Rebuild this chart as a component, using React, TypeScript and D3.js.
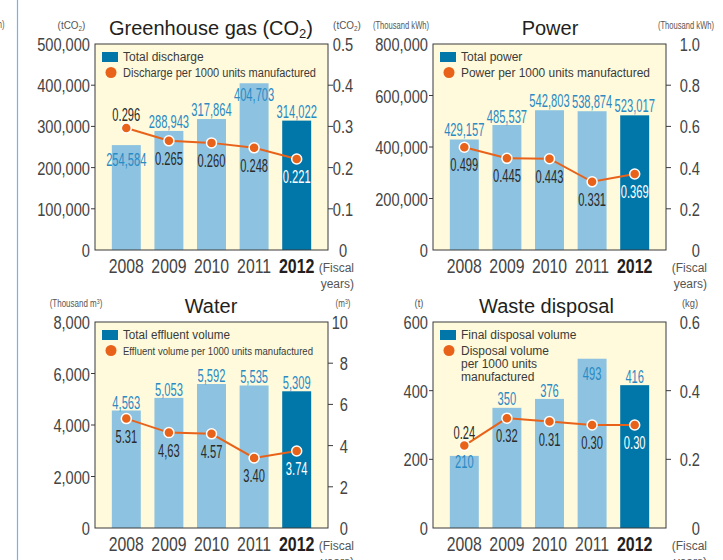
import * as d3 from "d3";

const years = ["2008", "2009", "2010", "2011", "2012"];

const co2Total = [254584, 288943, 317864, 404703, 314022];
const co2PerUnit = [0.296, 0.265, 0.26, 0.248, 0.221];
const co2PerUnitLabels = ["0.296", "0.265", "0.260", "0.248", "0.221"];
const co2LeftTicks = [0, 100000, 200000, 300000, 400000, 500000];
const co2RightTicks = [0, 0.1, 0.2, 0.3, 0.4, 0.5];

const powerTotal = [429157, 485537, 542803, 538874, 523017];
const powerPerUnit = [0.499, 0.445, 0.443, 0.331, 0.369];
const powerPerUnitLabels = ["0.499", "0.445", "0.443", "0.331", "0.369"];
const powerLeftTicks = [0, 200000, 400000, 600000, 800000];
const powerRightTicks = [0, 0.2, 0.4, 0.6, 0.8, 1.0];

const waterTotal = [4563, 5053, 5592, 5535, 5309];
const waterPerUnit = [5.31, 4.63, 4.57, 3.4, 3.74];
const waterPerUnitLabels = ["5.31", "4,63", "4.57", "3.40", "3.74"];
const waterLeftTicks = [0, 2000, 4000, 6000, 8000];
const waterRightTicks = [0, 2, 4, 6, 8, 10];

const wasteTotal = [210, 350, 376, 493, 416];
const wastePerUnit = [0.24, 0.32, 0.31, 0.3, 0.3];
const wastePerUnitLabels = ["0.24", "0.32", "0.31", "0.30", "0.30"];
const wasteLeftTicks = [0, 200, 400, 600];
const wasteRightTicks = [0, 0.2, 0.4, 0.6];

const W = 723;
const H = 560;
const FW = 233;
const FH = 206;

const SANS = "'Liberation Sans', Arial, sans-serif";
const BG = "#fffadc";
const BAR_LIGHT = "#8dc3e0";
const BAR_DARK = "#0076a9";
const BAR_TEXT = "#2a8ac4";
const ORANGE = "#e8621a";
const DARK = "#333";

type Legend = { text: string[]; len?: number; size?: number };

type PanelCfg = {
  fx: number;
  fy: number;
  title: React.ReactNode;
  titleX: number;
  unitLeft: React.ReactNode;
  unitLeftX: number;
  unitRight: React.ReactNode;
  unitRightX: number;
  unitSize: number;
  unitSx: number;
  totals: number[];
  perUnit: number[];
  perUnitLabels: string[];
  leftTicks: number[];
  rightTicks: number[];
  rightFmt: (v: number) => string;
  rightAnchor: "middle" | "end";
  rightX: number;
  fiscalX: number;
  barDy: number[];
  lineAbove: boolean[];
  legendBar: Legend;
  legendLine: Legend;
};

function CText({
  x,
  y,
  size,
  sx = 1,
  anchor = "start",
  fill = DARK,
  weight = 400,
  children,
}: {
  x: number;
  y: number;
  size: number;
  sx?: number;
  anchor?: "start" | "middle" | "end";
  fill?: string;
  weight?: number;
  children: React.ReactNode;
}) {
  return (
    <text
      transform={`translate(${x},${y}) scale(${sx},1)`}
      fontFamily={SANS}
      fontSize={size}
      fontWeight={weight}
      textAnchor={anchor}
      fill={fill}
    >
      {children}
    </text>
  );
}

const leftFmt = (v: number) => (v === 0 ? "0" : d3.format(",")(v));

function Panel({ c }: { c: PanelCfg }) {
  const { fx, fy } = c;
  const x = d3
    .scaleBand<string>()
    .domain(years)
    .range([fx, fx + FW])
    .paddingInner(0.32)
    .paddingOuter(0.395);
  const bw = x.bandwidth();
  const yL = d3
    .scaleLinear()
    .domain([0, c.leftTicks[c.leftTicks.length - 1]])
    .range([fy + FH, fy]);
  const yR = d3
    .scaleLinear()
    .domain([0, c.rightTicks[c.rightTicks.length - 1]])
    .range([fy + FH, fy]);
  const cx = (i: number) => (x(years[i]) ?? 0) + bw / 2;
  const line = d3
    .line<number>()
    .x((_, i) => cx(i))
    .y((v) => yR(v));

  const last = years.length - 1;

  return (
    <g>
      <CText x={c.titleX} y={fy - 9} size={20} anchor="middle" fill="#231f20">
        {c.title}
      </CText>
      <CText x={c.unitLeftX} y={fy - 15} size={c.unitSize} sx={c.unitSx} anchor="middle" fill="#555">
        {c.unitLeft}
      </CText>
      <CText x={c.unitRightX} y={fy - 15} size={c.unitSize} sx={c.unitSx} anchor="middle" fill="#555">
        {c.unitRight}
      </CText>

      <rect x={fx} y={fy} width={FW} height={FH} fill={BG} />

      {c.totals.map((v, i) => (
        <rect
          key={years[i]}
          x={x(years[i])}
          y={yL(v)}
          width={bw}
          height={yL(0) - yL(v)}
          fill={i === last ? BAR_DARK : BAR_LIGHT}
        />
      ))}

      <rect x={fx} y={fy} width={FW} height={FH} fill="none" stroke="#3a3a3a" strokeWidth={1} />

      {/* legend */}
      <rect x={fx + 7} y={fy + 8} width={16} height={10} fill={BAR_DARK} />
      <text
        x={fx + 28}
        y={fy + 17}
        fontFamily={SANS}
        fontSize={c.legendBar.size ?? 12}
        fill="#3a3a3a"
        textLength={c.legendBar.len}
        lengthAdjust="spacingAndGlyphs"
      >
        {c.legendBar.text[0]}
      </text>
      <circle cx={fx + 16} cy={fy + 28.5} r={5.5} fill={ORANGE} />
      {c.legendLine.text.map((t, k) => (
        <text
          key={k}
          x={fx + 28}
          y={fy + 32.5 + k * 13}
          fontFamily={SANS}
          fontSize={c.legendLine.size ?? 12}
          fill="#3a3a3a"
          textLength={c.legendLine.len}
          lengthAdjust="spacingAndGlyphs"
        >
          {t}
        </text>
      ))}

      {/* left axis */}
      {c.leftTicks.map((t, i) => (
        <g key={"l" + t}>
          {i > 0 && i < c.leftTicks.length - 1 && (
            <line x1={fx - 4} x2={fx} y1={yL(t)} y2={yL(t)} stroke="#3a3a3a" />
          )}
          <CText x={fx - 5} y={yL(t) + 7} size={19} sx={0.77} anchor="end" fill="#444">
            {leftFmt(t)}
          </CText>
        </g>
      ))}

      {/* right axis */}
      {c.rightTicks.map((t, i) => (
        <g key={"r" + t}>
          {i > 0 && i < c.rightTicks.length - 1 && (
            <line x1={fx + FW} x2={fx + FW + 5} y1={yR(t)} y2={yR(t)} stroke="#3a3a3a" />
          )}
          <CText x={c.rightX} y={yR(t) + 7} size={19} sx={0.77} anchor={c.rightAnchor} fill="#444">
            {c.rightFmt(t)}
          </CText>
        </g>
      ))}

      {/* x axis labels */}
      {years.map((yv, i) => (
        <CText
          key={yv}
          x={cx(i)}
          y={fy + FH + 23}
          size={20}
          sx={i === last ? 0.8 : 0.79}
          anchor="middle"
          fill={i === last ? "#231f20" : "#444"}
          weight={i === last ? 700 : 400}
        >
          {yv}
        </CText>
      ))}
      <text x={c.fiscalX} y={fy + FH + 22} fontFamily={SANS} fontSize={12} fill="#555" textAnchor="end">
        (Fiscal
      </text>
      <text x={c.fiscalX} y={fy + FH + 38} fontFamily={SANS} fontSize={12} fill="#555" textAnchor="end">
        years)
      </text>

      {/* bar values */}
      {c.totals.map((v, i) => (
        <CText key={"bv" + i} x={cx(i)} y={yL(v) + c.barDy[i]} size={18} sx={0.62} anchor="middle" fill={BAR_TEXT}>
          {d3.format(",")(v)}
        </CText>
      ))}

      {/* per unit line */}
      <path d={line(c.perUnit) ?? ""} fill="none" stroke={ORANGE} strokeWidth={2} />
      {c.perUnit.map((v, i) => (
        <circle key={"d" + i} cx={cx(i)} cy={yR(v)} r={5} fill={ORANGE} stroke="#fff" strokeWidth={1.5} />
      ))}
      {c.perUnit.map((v, i) => (
        <CText
          key={"lv" + i}
          x={cx(i)}
          y={yR(v) + (c.lineAbove[i] ? -7 : 24)}
          size={18}
          sx={0.62}
          anchor="middle"
          fill={i === last ? "#fff" : "#2b2b2b"}
        >
          {c.perUnitLabels[i]}
        </CText>
      ))}
    </g>
  );
}

const sub = (s: string) => (
  <tspan fontSize="0.65em" dy="0.25em">
    {s}
  </tspan>
);
const sup = (s: string) => (
  <tspan fontSize="0.65em" dy="-0.4em">
    {s}
  </tspan>
);

const panels: PanelCfg[] = [
  {
    fx: 95,
    fy: 44,
    title: (
      <>
        Greenhouse gas (CO{sub("2")}
        <tspan dy="-0.16em">)</tspan>
      </>
    ),
    titleX: 211,
    unitLeft: (
      <>
        (tCO{sub("2")}
        <tspan dy="-0.16em">)</tspan>
      </>
    ),
    unitLeftX: 71.5,
    unitRight: (
      <>
        (tCO{sub("2")}
        <tspan dy="-0.16em">)</tspan>
      </>
    ),
    unitRightX: 347,
    unitSize: 11,
    unitSx: 0.9,
    totals: co2Total,
    perUnit: co2PerUnit,
    perUnitLabels: co2PerUnitLabels,
    leftTicks: co2LeftTicks,
    rightTicks: co2RightTicks,
    rightFmt: (v) => (v === 0 ? "0" : d3.format(".1f")(v)),
    rightAnchor: "middle",
    rightX: 95 + FW + 15,
    fiscalX: 95 + FW + 26,
    barDy: [21, -3, -3, 18, -3],
    lineAbove: [true, false, false, false, false],
    legendBar: { text: ["Total discharge"] },
    legendLine: { text: ["Discharge per 1000 units manufactured"], len: 193 },
  },
  {
    fx: 433,
    fy: 44,
    title: "Power",
    titleX: 550,
    unitLeft: "(Thousand kWh)",
    unitLeftX: 401,
    unitRight: "(Thousand kWh)",
    unitRightX: 686,
    unitSize: 10,
    unitSx: 0.76,
    totals: powerTotal,
    perUnit: powerPerUnit,
    perUnitLabels: powerPerUnitLabels,
    leftTicks: powerLeftTicks,
    rightTicks: powerRightTicks,
    rightFmt: (v) => (v === 0 ? "0" : d3.format(".1f")(v)),
    rightAnchor: "end",
    rightX: 433 + FW + 34,
    fiscalX: 433 + FW + 41,
    barDy: [-3, -2, -3, -3, -3],
    lineAbove: [false, false, false, false, false],
    legendBar: { text: ["Total power"] },
    legendLine: { text: ["Power per 1000 units manufactured"], len: 189 },
  },
  {
    fx: 95,
    fy: 322,
    title: "Water",
    titleX: 211,
    unitLeft: <>(Thousand m{sup("3")}<tspan dy="0.26em">)</tspan></>,
    unitLeftX: 76,
    unitRight: <>(m{sup("3")}<tspan dy="0.26em">)</tspan></>,
    unitRightX: 343,
    unitSize: 10,
    unitSx: 0.8,
    totals: waterTotal,
    perUnit: waterPerUnit,
    perUnitLabels: waterPerUnitLabels,
    leftTicks: waterLeftTicks,
    rightTicks: waterRightTicks,
    rightFmt: (v) => String(v),
    rightAnchor: "end",
    rightX: 95 + FW + 20,
    fiscalX: 95 + FW + 26,
    barDy: [-2, -2, -2, -2, -2],
    lineAbove: [false, false, false, false, false],
    legendBar: { text: ["Total effluent volume"], len: 107 },
    legendLine: { text: ["Effluent volume per 1000 units manufactured"], len: 190, size: 11 },
  },
  {
    fx: 433,
    fy: 322,
    title: "Waste disposal",
    titleX: 546.5,
    unitLeft: "(t)",
    unitLeftX: 419,
    unitRight: "(kg)",
    unitRightX: 690,
    unitSize: 11,
    unitSx: 0.85,
    totals: wasteTotal,
    perUnit: wastePerUnit,
    perUnitLabels: wastePerUnitLabels,
    leftTicks: wasteLeftTicks,
    rightTicks: wasteRightTicks,
    rightFmt: (v) => (v === 0 ? "0" : d3.format(".1f")(v)),
    rightAnchor: "end",
    rightX: 433 + FW + 34,
    fiscalX: 433 + FW + 41,
    barDy: [12, -3, -2, 21, -2],
    lineAbove: [true, false, false, false, false],
    legendBar: { text: ["Final disposal volume"] },
    legendLine: { text: ["Disposal volume", "per 1000 units", "manufactured"] },
  },
];

export default function App() {
  return (
    <svg
      width={W}
      height={H}
      viewBox={`0 0 ${W} ${H}`}
      style={{ position: "absolute", left: 0, top: 0, background: "#fff", display: "block" }}
    >
      <rect width={W} height={H} fill="#fff" />
      <line x1={17.5} x2={17.5} y1={0} y2={H} stroke="#6ab8e4" strokeWidth={1.2} />
      <CText x={4.5} y={28} size={10} sx={0.76} anchor="end" fill="#555">
        (Thousand kWh)
      </CText>
      {panels.map((c, i) => (
        <Panel key={i} c={c} />
      ))}
    </svg>
  );
}
